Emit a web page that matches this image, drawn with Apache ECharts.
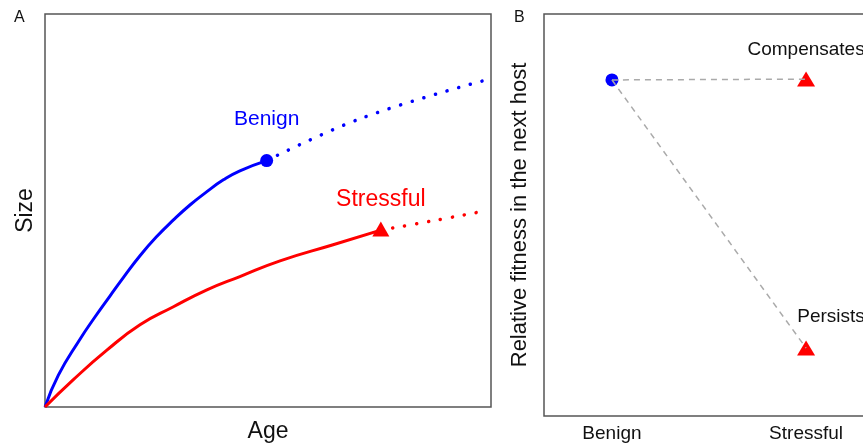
<!DOCTYPE html>
<html>
<head>
<meta charset="utf-8">
<script src="https://cdn.jsdelivr.net/npm/echarts@6/dist/echarts.min.js"></script>
<style>
  html, body { margin: 0; padding: 0; background: #fff; }
  #chart { width: 863px; height: 446px; }
</style>
</head>
<body>
<div id="chart"></div>
<script>
// panel A: size vs age (x, y both 0..1)
var benignGrowth = [[0, 0], [0.030, 0.081], [0.077, 0.170], [0.112, 0.229], [0.146, 0.283], [0.176, 0.330], [0.213, 0.385], [0.250, 0.433],
  [0.288, 0.476], [0.325, 0.514], [0.363, 0.548], [0.400, 0.578], [0.437, 0.601], [0.497, 0.627]]
var benignProjection = [[0.497, 0.627], [0.710, 0.735], [0.982, 0.830]]
var stressGrowth = [[0, 0], [0.063, 0.069], [0.138, 0.144], [0.213, 0.209], [0.288, 0.255], [0.363, 0.298], [0.437, 0.332], [0.527, 0.372], [0.646, 0.413], [0.753, 0.450]]
var stressProjection = [[0.753, 0.450], [0.866, 0.473], [0.978, 0.497]]
var benignEnd = [0.497, 0.627]
var stressEnd = [0.753, 0.453]

// panel B: relative fitness in the next host
var fitnessCategories = ['Benign', 'Stressful']
var fitnessBenign = [1, 0.836]
var fitnessCompensates = [2, 0.838]
var fitnessPersists = [2, 0.169]

var font = 'Liberation Sans, Arial, sans-serif'
var blue = '#0000ff'
var red = '#ff0000'

var myChart = echarts.init(document.getElementById('chart'))

var option = {
  animation: false,
  textStyle: { fontFamily: font },
  graphic: [
    { type: 'text', left: 14, top: 10, style: { text: 'A', fontSize: 16, fontFamily: font, fill: '#111' } },
    { type: 'text', left: 514, top: 10, style: { text: 'B', fontSize: 16, fontFamily: font, fill: '#111' } }
  ],
  grid: [
    { left: 45, width: 446, top: 14, height: 393, outerBoundsMode: 'none', show: true, borderColor: '#555', borderWidth: 1.5 },
    { left: 544, width: 330, top: 14, height: 402, outerBoundsMode: 'none', show: true, borderColor: '#555', borderWidth: 1.5 }
  ],
  xAxis: [
    {
      gridIndex: 0, type: 'value', min: 0, max: 1,
      name: 'Age', nameLocation: 'middle', nameGap: 13,
      nameTextStyle: { fontSize: 23, color: '#111', fontFamily: font },
      axisLine: { show: false }, axisTick: { show: false },
      axisLabel: { show: false }, splitLine: { show: false }
    },
    {
      gridIndex: 1, type: 'value', min: 0.65, max: 2.35,
      axisLine: { show: false }, axisTick: { show: false }, splitLine: { show: false },
      axisLabel: {
        customValues: [1, 2],
        fontSize: 19, color: '#111', fontFamily: font, margin: 8,
        formatter: function (v) { return fitnessCategories[Math.round(v) - 1] }
      }
    }
  ],
  yAxis: [
    {
      gridIndex: 0, type: 'value', min: 0, max: 1,
      name: 'Size', nameLocation: 'middle', nameGap: 8,
      nameTextStyle: { fontSize: 23, color: '#111', fontFamily: font },
      axisLine: { show: false }, axisTick: { show: false },
      axisLabel: { show: false }, splitLine: { show: false }
    },
    {
      gridIndex: 1, type: 'value', min: 0, max: 1,
      name: 'Relative fitness in the next host', nameLocation: 'middle', nameGap: 13,
      nameTextStyle: { fontSize: 22, color: '#111', fontFamily: font },
      axisLine: { show: false }, axisTick: { show: false },
      axisLabel: { show: false }, splitLine: { show: false }
    }
  ],
  series: [
    // 曲线
    {
      type: 'line', xAxisIndex: 0, yAxisIndex: 0, data: benignGrowth,
      smooth: 0.5, showSymbol: false, lineStyle: { color: blue, width: 3 }
    },
    {
      type: 'line', xAxisIndex: 0, yAxisIndex: 0, data: benignProjection,
      smooth: 0.4, showSymbol: false,
      lineStyle: { color: blue, width: 3.5, type: [0.1, 12], cap: 'round' }
    },
    {
      type: 'line', xAxisIndex: 0, yAxisIndex: 0, data: stressGrowth,
      smooth: 0.5, showSymbol: false, lineStyle: { color: red, width: 3 }
    },
    {
      type: 'line', xAxisIndex: 0, yAxisIndex: 0, data: stressProjection,
      smooth: 0.4, showSymbol: false,
      lineStyle: { color: red, width: 3.5, type: [0.1, 12], cap: 'round' }
    },
    {
      type: 'scatter', xAxisIndex: 0, yAxisIndex: 0, data: [benignEnd],
      symbol: 'circle', symbolSize: 13, itemStyle: { color: blue, opacity: 1 },
      label: { show: true, position: 'top', distance: 24, formatter: 'Benign', color: blue, fontSize: 21, fontFamily: font }
    },
    {
      type: 'scatter', xAxisIndex: 0, yAxisIndex: 0, data: [stressEnd],
      symbol: 'triangle', symbolSize: [17, 15], itemStyle: { color: red, opacity: 1 },
      label: { show: true, position: 'top', distance: 10, formatter: 'Stressful', color: red, fontSize: 23, fontFamily: font }
    },
    // panel B
    {
      type: 'line', xAxisIndex: 1, yAxisIndex: 1, data: [fitnessBenign, fitnessCompensates],
      showSymbol: false, lineStyle: { color: '#aaa', width: 1.5, type: [6, 5] }
    },
    {
      type: 'line', xAxisIndex: 1, yAxisIndex: 1, data: [fitnessBenign, fitnessPersists],
      showSymbol: false, lineStyle: { color: '#aaa', width: 1.5, type: [6, 5] }
    },
    {
      type: 'scatter', xAxisIndex: 1, yAxisIndex: 1, data: [fitnessBenign],
      symbol: 'circle', symbolSize: 13, itemStyle: { color: blue, opacity: 1 }
    },
    {
      type: 'scatter', xAxisIndex: 1, yAxisIndex: 1, data: [fitnessCompensates],
      symbol: 'triangle', symbolSize: [18, 15], itemStyle: { color: red, opacity: 1 },
      label: { show: true, position: 'top', distance: 12, formatter: 'Compensates', color: '#111', fontSize: 19, fontFamily: font }
    },
    {
      type: 'scatter', xAxisIndex: 1, yAxisIndex: 1, data: [fitnessPersists],
      symbol: 'triangle', symbolSize: [18, 15], itemStyle: { color: red, opacity: 1 },
      label: { show: true, position: 'top', distance: 14, offset: [25, 0], formatter: 'Persists', color: '#111', fontSize: 19, fontFamily: font }
    }
  ]
}

myChart.setOption(option)
</script>
</body>
</html>
